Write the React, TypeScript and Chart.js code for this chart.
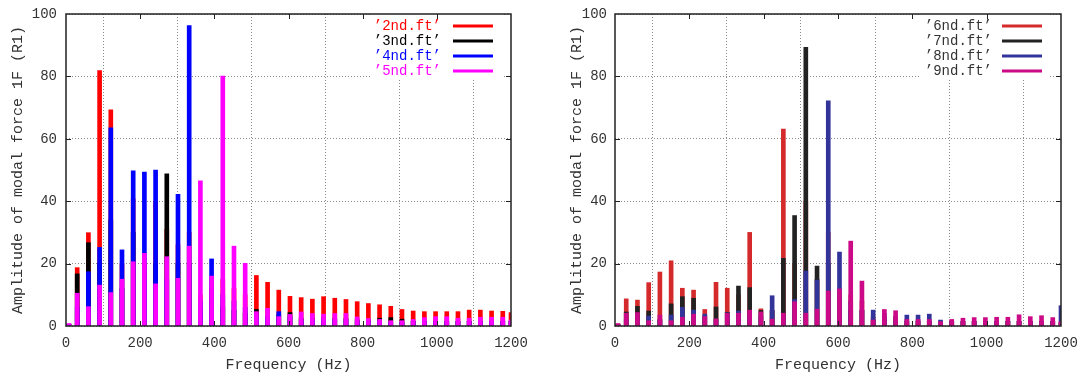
import React, { useEffect, useRef } from "react";
import { Chart, registerables } from "chart.js";

Chart.register(...registerables);

// Harmonic frequencies (Hz) at which the modal force amplitudes are sampled
const FREQUENCIES = [
  8, 30.2, 60.4, 90.6, 120.8, 151, 181.2, 211.4, 241.6, 271.8, 302, 332.2, 362.4,
  392.6, 422.8, 453, 483.2, 513.4, 543.6, 573.8, 604, 634.2, 664.4, 694.6, 724.8,
  755, 785.2, 815.4, 845.6, 875.8, 906, 936.2, 966.4, 996.6, 1026.8, 1057, 1087.2,
  1117.4, 1147.6, 1177.8, 1200,
];

const X_TICKS = [0, 200, 400, 600, 800, 1000, 1200];
const Y_TICKS = [0, 20, 40, 60, 80, 100];

const X_TITLE = "Frequency (Hz)";
const Y_TITLE = "Amplitude of modal force 1F (R1)";

const LEFT_LABELS = ["’2nd.ft’", "’3nd.ft’", "’4nd.ft’", "’5nd.ft’"];
const RIGHT_LABELS = ["’6nd.ft’", "’7nd.ft’", "’8nd.ft’", "’9nd.ft’"];

// Left panel series
const FT2 = [
  0.5, 18.7, 29.9, 81.9, 69.3, 20, 40.7, 20, 40, 31, 26, 30, 10, 12, 15, 12, 10,
  16.2, 14.0, 11.5, 9.5, 9.1, 8.6, 9.4, 8.9, 8.5, 7.8, 7.2, 6.8, 6.3, 5.3, 4.8,
  4.6, 4.6, 4.6, 4.6, 5.1, 5.1, 4.8, 4.7, 4.3,
];
const FT3 = [
  0.5, 16.7, 26.7, 20, 34, 12, 30, 15, 20, 48.8, 20, 20, 5, 8, 6, 5, 4, 5.3, 3,
  3.5, 4.3, 2.5, 2.5, 2.5, 2.5, 2.5, 2, 2, 2.5, 2.7, 2.2, 1.5, 1.5, 1.5, 1.5, 1.5,
  1.5, 1.5, 1.5, 1.5, 1.5,
];
const FT4 = [
  0.5, 6, 17.4, 25.2, 63.5, 24.4, 49.7, 49.3, 50.0, 15, 42.2, 96.3, 8, 21.5, 10,
  8, 6, 3, 3, 4.6, 3, 2, 2, 2, 2, 2, 1.5, 1.5, 1.5, 1.2, 1.2, 1.5, 1.5, 1.5, 1.5,
  1.5, 1.5, 1.5, 1.5, 1.5, 1.5,
];
const FT5 = [
  0.8, 10.5, 6.2, 13.1, 10.7, 15.0, 20.6, 23.3, 13.5, 22.2, 15.3, 25.6, 46.5,
  16.0, 80.1, 25.6, 20.1, 4.6, 5.7, 3.0, 3.7, 4.5, 4.0, 3.8, 4.0, 4.0, 2.9, 2.4,
  2.1, 1.7, 1.7, 2.1, 2.7, 3.0, 3.0, 2.5, 2.5, 2.8, 2.8, 2.8, 1.9,
];

// Right panel series
const FT6 = [
  0.5, 8.7, 8.3, 13.9, 17.3, 20.9, 12.1, 11.5, 5.3, 14.0, 12.1, 10, 30.0, 5.5, 5,
  63.1, 20, 40, 15, 30, 10, 10, 8, 3, 3, 3, 1.5, 1.5, 1.5, 1.0, 1.5, 1.5, 1.5,
  1.5, 1.5, 1.5, 1.5, 1.5, 1.5, 1.5, 1.0,
];
const FT7 = [
  0.5, 4.5, 6.3, 4.8, 2, 7.1, 9.4, 8.9, 3, 6.1, 4.4, 12.8, 12.3, 5.0, 5, 21.7,
  35.4, 89.3, 19.2, 20, 8, 5, 5, 2, 2, 2, 1.5, 1.5, 1.5, 1, 1.5, 1.5, 1.5, 1.5,
  1.5, 1.5, 1.5, 1.5, 1.5, 1.5, 1,
];
const FT8 = [
  0.5, 2, 2, 3.2, 2, 3.5, 6.0, 5.1, 3.8, 2, 4.2, 4.8, 3, 3, 9.7, 3, 8.5, 17.6,
  14.7, 72.2, 23.7, 8, 5, 5.1, 4, 3, 3.5, 3.5, 3.8, 1.9, 1.5, 1.5, 1.5, 1.5, 1.5,
  1.5, 1.5, 1.5, 1.5, 1.5, 6.5,
];
const FT9 = [
  0.8, 4.1, 4.3, 1.7, 3.5, 1.7, 2.8, 3.8, 3.0, 2.3, 4.1, 4.1, 5.1, 4.5, 2.2, 4.1,
  7.8, 4.1, 5.4, 11.2, 11.9, 27.2, 14.4, 1.9, 5.3, 4.9, 2.1, 2.1, 2.1, 1.4, 2.1,
  2.5, 2.7, 2.7, 2.8, 2.8, 3.6, 3.0, 3.3, 2.7, 1.4,
];

const FONT = "'Liberation Mono', 'DejaVu Sans Mono', monospace";
const TEXT = "#333333";
const GRID = "#8a8a8a";
const KEY_ROWS = [26, 41, 56, 71];
const KEY_BOX_BOTTOM = 80;
const CANVAS_W = 539;
const CANVAS_H = 375;

type Series = { label: string; values: number[]; color: string };
type PanelSpec = {
  left: number;
  series: Series[];
  coloredKeyText: boolean;
  axisWidth: number;
  padRight: number;
  titlePad: number;
  tickPad: number;
  key: { textRight: number; lineFrom: number; lineTo: number; boxLeft: number; boxRight: number };
};

const LEFT_PANEL: PanelSpec = {
  left: 0,
  series: [
    { label: LEFT_LABELS[0], values: FT2, color: "#ff0000" },
    { label: LEFT_LABELS[1], values: FT3, color: "#000000" },
    { label: LEFT_LABELS[2], values: FT4, color: "#0000ff" },
    { label: LEFT_LABELS[3], values: FT5, color: "#ff00ff" },
  ],
  coloredKeyText: true,
  axisWidth: 66,
  padRight: 28,
  titlePad: 9,
  tickPad: 9,
  key: { textRight: 441, lineFrom: 453, lineTo: 493, boxLeft: 371, boxRight: 502 },
};

const RIGHT_PANEL: PanelSpec = {
  left: 539,
  series: [
    { label: RIGHT_LABELS[0], values: FT6, color: "#d42a2c" },
    { label: RIGHT_LABELS[1], values: FT7, color: "#222222" },
    { label: RIGHT_LABELS[2], values: FT8, color: "#33349a" },
    { label: RIGHT_LABELS[3], values: FT9, color: "#cc0a88" },
  ],
  coloredKeyText: false,
  axisWidth: 76,
  padRight: 17,
  titlePad: 29,
  tickPad: 8,
  key: { textRight: 453, lineFrom: 463, lineTo: 503, boxLeft: 381, boxRight: 511 },
};

// Draws the opaque key, the plot frame and the inward tick marks
function framePlugin(spec: PanelSpec) {
  return {
    id: "frame",
    afterDatasetsDraw(chart: any) {
      const { ctx, chartArea: a } = chart;
      const xs = chart.scales.x;
      const ys = chart.scales.y;
      ctx.save();

      ctx.fillStyle = "#ffffff";
      ctx.fillRect(spec.key.boxLeft, a.top, spec.key.boxRight - spec.key.boxLeft, KEY_BOX_BOTTOM - a.top);
      ctx.font = `14px ${FONT}`;
      ctx.textAlign = "right";
      ctx.textBaseline = "middle";
      spec.series.forEach((s, i) => {
        const y = KEY_ROWS[i];
        ctx.fillStyle = spec.coloredKeyText ? s.color : TEXT;
        ctx.fillText(s.label, spec.key.textRight, y);
        ctx.strokeStyle = s.color;
        ctx.lineWidth = 3;
        ctx.beginPath();
        ctx.moveTo(spec.key.lineFrom, y);
        ctx.lineTo(spec.key.lineTo, y);
        ctx.stroke();
      });

      ctx.strokeStyle = "#222222";
      ctx.lineWidth = 1;
      ctx.beginPath();
      X_TICKS.slice(1, -1).forEach((v) => {
        const px = Math.round(xs.getPixelForValue(v)) + 0.5;
        ctx.moveTo(px, a.bottom);
        ctx.lineTo(px, a.bottom - 5);
        ctx.moveTo(px, a.top);
        ctx.lineTo(px, a.top + 5);
      });
      Y_TICKS.slice(1, -1).forEach((v) => {
        const py = Math.round(ys.getPixelForValue(v)) + 0.5;
        ctx.moveTo(a.left, py);
        ctx.lineTo(a.left + 5, py);
        ctx.moveTo(a.right, py);
        ctx.lineTo(a.right - 5, py);
      });
      ctx.stroke();

      ctx.lineWidth = 1.5;
      ctx.strokeRect(a.left, a.top, a.right - a.left, a.bottom - a.top);
      ctx.restore();
    },
  };
}

function buildConfig(spec: PanelSpec): any {
  const n = spec.series.length;
  return {
    type: "bar",
    data: {
      datasets: spec.series.map((s, i) => ({
        label: s.label,
        data: FREQUENCIES.map((f, j) => ({ x: f, y: s.values[j] })),
        backgroundColor: s.color,
        borderWidth: 0,
        barThickness: 4,
        grouped: false,
        order: n - i,
        clip: 0,
      })),
    },
    options: {
      responsive: false,
      animation: false,
      events: [],
      layout: { padding: { top: 14, right: spec.padRight, bottom: 0, left: 0 } },
      plugins: { legend: { display: false }, tooltip: { enabled: false } },
      scales: {
        x: {
          type: "linear",
          min: X_TICKS[0],
          max: X_TICKS[X_TICKS.length - 1],
          offset: false,
          ticks: {
            stepSize: X_TICKS[1] - X_TICKS[0],
            maxRotation: 0,
            autoSkip: false,
            padding: 9,
            color: TEXT,
            font: { family: FONT, size: 14 },
            callback: (v: number) => String(v),
          },
          grid: { color: GRID, lineWidth: 1, drawTicks: false },
          border: { display: false, dash: [1, 2] },
          title: {
            display: true,
            text: X_TITLE,
            color: TEXT,
            font: { family: FONT, size: 15 },
            padding: { top: 0, bottom: 1 },
          },
          afterFit: (s: any) => {
            s.height = 49;
            s.paddingLeft = 0;
            s.paddingRight = 0;
          },
        },
        y: {
          min: Y_TICKS[0],
          max: Y_TICKS[Y_TICKS.length - 1],
          ticks: {
            stepSize: Y_TICKS[1] - Y_TICKS[0],
            padding: spec.tickPad,
            color: TEXT,
            font: { family: FONT, size: 14 },
            callback: (v: number) => String(v),
          },
          grid: { color: GRID, lineWidth: 1, drawTicks: false },
          border: { display: false, dash: [1, 2] },
          title: {
            display: true,
            text: Y_TITLE,
            color: TEXT,
            font: { family: FONT, size: 15 },
            padding: { top: spec.titlePad, bottom: 0 },
          },
          afterFit: (s: any) => {
            s.width = spec.axisWidth;
            s.paddingTop = 0;
            s.paddingBottom = 0;
          },
        },
      },
    },
    plugins: [framePlugin(spec)],
  };
}

function Panel({ spec }: { spec: PanelSpec }) {
  const ref = useRef<HTMLCanvasElement>(null);
  useEffect(() => {
    const chart = new Chart(ref.current as HTMLCanvasElement, buildConfig(spec));
    return () => chart.destroy();
  }, [spec]);
  return (
    <canvas
      ref={ref}
      width={CANVAS_W}
      height={CANVAS_H}
      style={{ position: "absolute", left: spec.left, top: 0, width: CANVAS_W, height: CANVAS_H }}
    />
  );
}

export default function App() {
  return (
    <div style={{ position: "fixed", left: 0, top: 0, width: 1078, height: 375, background: "#ffffff" }}>
      <Panel spec={LEFT_PANEL} />
      <Panel spec={RIGHT_PANEL} />
    </div>
  );
}
